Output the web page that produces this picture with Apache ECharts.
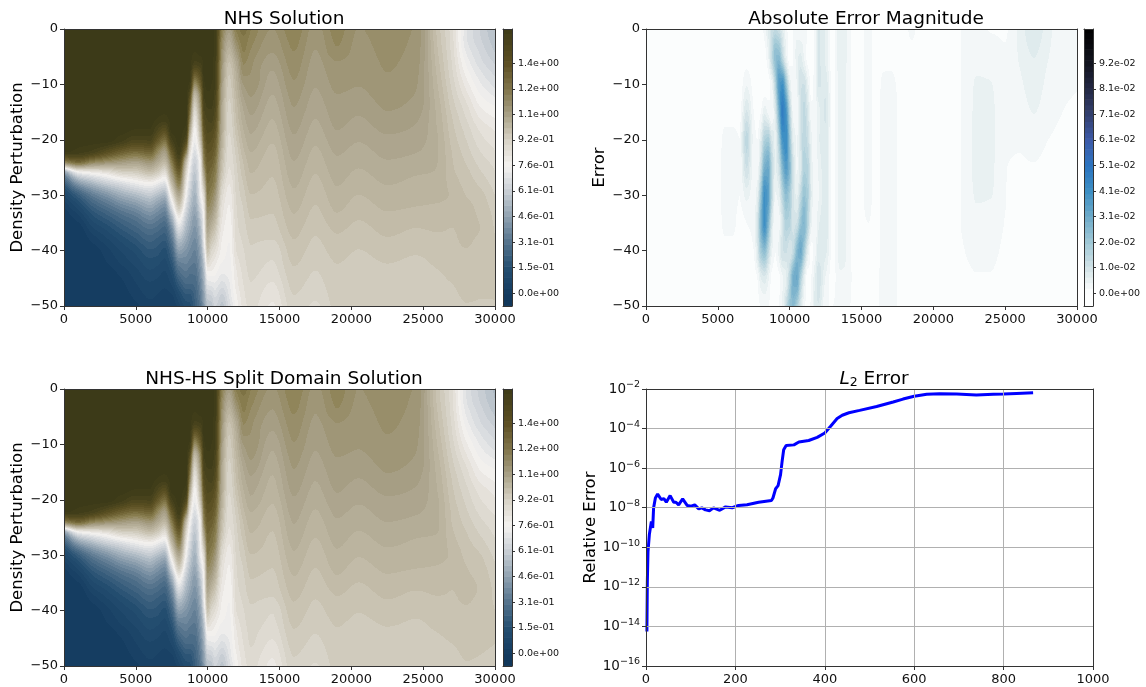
<!DOCTYPE html>
<html>
<head>
<meta charset="utf-8">
<title>NHS-HS split domain</title>
<script src="https://cdn.jsdelivr.net/npm/echarts@6/dist/echarts.min.js"></script>
<style>
  html, body { margin: 0; padding: 0; background: #fff; }
  #chart { width: 1146px; height: 687px; }
</style>
</head>
<body>
<div id="chart"></div>
<script>
// Density fields, one line per x column, rows run y = 0, -2, ... -50
const fieldX = [0, 1000, 2000, 3000, 4000, 5000, 6000, 6500, 7000, 7500, 8000, 8500, 8750, 9100, 9500, 9750, 10000, 10250, 10500, 11000, 11500, 12000, 12500,
  13000, 14500, 16000, 17500, 19000, 20500, 22500, 24500, 26000, 27000, 28000, 29000, 30000];
const fieldY = [0, -2, -4, -6, -8, -10, -12, -14, -16, -18, -20, -22, -24, -26, -28, -30, -32, -34, -36, -38, -40, -42, -44, -46, -48, -50];

// x <= 12500 reads the same in both solution panels
const sharedColumns = [
  [1.6,1.6,1.6,1.6,1.6,1.6,1.6,1.6,1.6,1.6,1.6,1.6,1.25,.42,.2,.09,.03,0,0,0,0,0,0,0,0,0],
  [1.6,1.6,1.6,1.6,1.6,1.6,1.6,1.6,1.6,1.6,1.6,1.58,1.35,.72,.42,.22,.12,.05,.01,0,0,0,0,0,0,0],
  [1.6,1.6,1.6,1.6,1.6,1.6,1.6,1.6,1.6,1.6,1.6,1.55,1.25,.78,.52,.34,.23,.15,.09,.04,.01,0,0,0,0,0],
  [1.6,1.6,1.6,1.6,1.6,1.6,1.6,1.6,1.6,1.6,1.6,1.48,1.2,.83,.6,.42,.3,.21,.14,.09,.05,.03,.01,0,0,0],
  [1.6,1.6,1.6,1.6,1.6,1.6,1.6,1.6,1.6,1.6,1.57,1.4,1.16,.9,.66,.5,.37,.27,.2,.14,.1,.07,.04,.02,.01,0],
  [1.6,1.6,1.6,1.6,1.6,1.6,1.6,1.6,1.6,1.59,1.52,1.35,1.13,.92,.72,.55,.42,.32,.25,.19,.14,.11,.08,.06,.04,.02],
  [1.6,1.6,1.6,1.6,1.6,1.6,1.6,1.6,1.6,1.59,1.53,1.38,1.18,.98,.76,.6,.48,.38,.3,.24,.19,.15,.12,.09,.07,.05],
  [1.6,1.6,1.6,1.6,1.6,1.6,1.6,1.6,1.59,1.53,1.42,1.25,1.1,.93,.72,.56,.44,.35,.28,.22,.18,.14,.11,.08,.06,.04],
  [1.6,1.6,1.6,1.6,1.6,1.6,1.6,1.6,1.58,1.48,1.32,1.15,1.02,.85,.68,.52,.4,.32,.25,.2,.15,.12,.09,.07,.05,.03],
  [1.6,1.6,1.6,1.6,1.6,1.6,1.6,1.6,1.6,1.6,1.55,1.42,1.28,1.15,1,.84,.68,.52,.4,.32,.25,.19,.14,.1,.06,.03],
  [1.6,1.6,1.6,1.6,1.6,1.6,1.6,1.6,1.6,1.6,1.6,1.58,1.5,1.38,1.26,1.1,.96,.8,.68,.56,.46,.36,.28,.2,.13,.08],
  [1.6,1.6,1.6,1.6,1.6,1.6,1.6,1.6,1.6,1.58,1.5,1.3,1.02,.9,.82,.76,.68,.6,.54,.48,.42,.37,.32,.26,.19,.14],
  [1.6,1.6,1.6,1.6,1.6,1.58,1.48,1.38,1.28,1.15,1,.88,.78,.72,.67,.62,.57,.52,.48,.43,.39,.35,.3,.26,.19,.15],
  [1.6,1.6,1.59,1.55,1.4,1.22,1.02,.92,.84,.78,.74,.69,.63,.59,.55,.52,.49,.45,.42,.39,.36,.33,.3,.27,.24,.22],
  [1.6,1.6,1.6,1.56,1.48,1.38,1.26,1.2,1.14,1.08,1,.9,.81,.79,.77,.74,.67,.6,.55,.51,.47,.44,.41,.38,.35,.32],
  [1.6,1.6,1.6,1.6,1.6,1.58,1.56,1.53,1.49,1.44,1.38,1.32,1.26,1.14,1.02,.9,.84,.8,.78,.75,.68,.6,.55,.51,.47,.44],
  [1.6,1.6,1.6,1.6,1.6,1.6,1.58,1.56,1.53,1.5,1.47,1.43,1.39,1.36,1.32,1.29,1.23,1.17,1.12,1.05,.98,.88,.78,.7,.62,.56],
  [1.6,1.6,1.6,1.6,1.6,1.59,1.58,1.56,1.54,1.5,1.46,1.42,1.38,1.33,1.3,1.25,1.2,1.13,1.05,.97,.9,.84,.78,.71,.63,.57],
  [1.58,1.58,1.58,1.57,1.57,1.56,1.54,1.52,1.49,1.45,1.41,1.37,1.32,1.28,1.24,1.18,1.12,1.05,.98,.92,.86,.81,.77,.72,.67,.63],
  [1.27,1.23,1.2,1.18,1.16,1.14,1.12,1.1,1.09,1.08,1.06,1.03,1,.97,.92,.88,.85,.83,.81,.79,.78,.76,.73,.68,.62,.58],
  [1.14,1.09,1.04,.99,.96,.945,.93,.915,.905,.895,.885,.875,.865,.85,.825,.805,.79,.78,.765,.76,.755,.75,.74,.72,.7,.67],
  [1.27,1.22,1.16,1.1,1.07,1.05,1.03,1.01,1,.98,.96,.94,.925,.915,.905,.9,.89,.885,.88,.87,.86,.84,.82,.81,.79,.77],
  [1.31,1.28,1.26,1.23,1.2,1.16,1.13,1.1,1.08,1.06,1.04,1.02,.995,.98,.96,.945,.93,.92,.91,.9,.89,.88,.87,.86,.85,.84]
];
const nhsRightColumns = [
  [1.26,1.24,1.22,1.2,1.19,1.18,1.16,1.14,1.12,1.1,1.08,1.06,1.04,1.025,1.01,.99,.975,.96,.945,.93,.92,.91,.9,.89,.88,.87],
  [1.19,1.175,1.16,1.14,1.12,1.105,1.09,1.075,1.06,1.045,1.03,1.015,1.005,.995,.985,.975,.965,.955,.945,.925,.9,.89,.875,.855,.835,.82],
  [1.25,1.236,1.224,1.21,1.198,1.185,1.17,1.158,1.145,1.131,1.118,1.104,1.09,1.077,1.063,1.049,1.034,1.02,1.005,.991,.977,.964,.95,.937,.925,.912],
  [1.176,1.166,1.156,1.146,1.137,1.127,1.117,1.106,1.092,1.08,1.066,1.052,1.04,1.026,1.013,1,.99,.978,.966,.955,.944,.933,.923,.913,.9,.885],
  [1.24,1.23,1.218,1.189,1.178,1.167,1.156,1.146,1.137,1.126,1.112,1.097,1.084,1.072,1.06,1.047,1.033,1.018,.999,.984,.972,.96,.952,.945,.94,.935],
  [1.189,1.183,1.177,1.171,1.165,1.159,1.149,1.135,1.122,1.108,1.094,1.08,1.066,1.052,1.038,1.024,1.01,.995,.981,.969,.957,.948,.94,.935,.93,.925],
  [1.21,1.205,1.2,1.195,1.19,1.181,1.172,1.162,1.15,1.133,1.116,1.102,1.088,1.073,1.059,1.045,1.031,1.017,1.002,.988,.973,.96,.951,.944,.937,.93],
  [1.185,1.18,1.175,1.17,1.165,1.16,1.155,1.145,1.131,1.119,1.107,1.094,1.078,1.061,1.049,1.037,1.025,1.007,.991,.978,.963,.953,.948,.94,.935,.93],
  [.98,.985,.995,1.005,1.015,1.025,1.035,1.045,1.05,1.055,1.06,1.06,1.058,1.055,1.045,1.035,1.02,1.005,.995,.985,.975,.965,.955,.945,.938,.93],
  [.87,.875,.88,.89,.9,.915,.93,.945,.96,.97,.98,.99,.995,1,1.01,1.02,1.012,1,.991,.988,.985,.98,.97,.958,.948,.935],
  [.7,.7,.72,.75,.78,.81,.84,.87,.89,.91,.925,.94,.955,.97,.98,.99,1,1,1,.995,.99,.98,.975,.97,.965,.955],
  [.62,.63,.65,.67,.7,.73,.76,.79,.82,.85,.87,.89,.91,.93,.95,.97,.98,.987,.991,.985,.98,.975,.97,.965,.96,.955],
  [.56,.57,.59,.62,.65,.68,.72,.76,.79,.82,.84,.86,.88,.895,.91,.925,.94,.95,.955,.96,.965,.965,.965,.962,.96,.955]
];
const splitRightColumns = [
  [1.26,1.24,1.22,1.2,1.19,1.18,1.165,1.145,1.12,1.1,1.085,1.06,1.045,1.025,1.015,.99,.975,.96,.95,.93,.92,.91,.9,.895,.88,.87],
  [1.185,1.17,1.155,1.14,1.12,1.1,1.085,1.07,1.055,1.045,1.03,1.015,1,.99,.98,.97,.96,.95,.94,.92,.895,.885,.87,.85,.83,.815],
  [1.252,1.24,1.228,1.212,1.2,1.188,1.172,1.16,1.148,1.134,1.12,1.106,1.093,1.08,1.066,1.052,1.037,1.023,1.008,.994,.98,.967,.953,.94,.927,.915],
  [1.18,1.17,1.16,1.15,1.14,1.13,1.12,1.109,1.095,1.083,1.07,1.056,1.043,1.03,1.017,1.004,.993,.981,.97,.958,.947,.936,.926,.915,.902,.888],
  [1.242,1.232,1.22,1.192,1.18,1.17,1.159,1.149,1.14,1.129,1.115,1.1,1.087,1.075,1.063,1.05,1.036,1.021,1.002,.987,.975,.963,.954,.947,.941,.936],
  [1.19,1.185,1.179,1.173,1.167,1.161,1.152,1.138,1.125,1.111,1.097,1.083,1.069,1.055,1.041,1.027,1.013,.998,.984,.972,.96,.951,.942,.936,.931,.926],
  [1.21,1.206,1.201,1.196,1.191,1.183,1.174,1.164,1.152,1.135,1.119,1.105,1.091,1.076,1.062,1.048,1.034,1.02,1.005,.991,.976,.963,.953,.945,.938,.931],
  [1.185,1.18,1.176,1.171,1.166,1.161,1.156,1.147,1.134,1.122,1.11,1.097,1.081,1.064,1.052,1.04,1.028,1.01,.994,.981,.966,.956,.95,.941,.936,.93],
  [.975,.98,.99,1,1.012,1.022,1.033,1.043,1.05,1.056,1.062,1.064,1.062,1.058,1.048,1.038,1.023,1.008,.998,.988,.978,.968,.958,.948,.94,.93],
  [.865,.87,.875,.885,.895,.91,.925,.94,.955,.965,.975,.985,.99,.998,1.008,1.018,1.01,1,.992,.989,.985,.98,.97,.958,.948,.935],
  [.69,.695,.715,.74,.77,.8,.83,.86,.88,.9,.915,.93,.945,.96,.972,.982,.992,.996,.998,.994,.988,.98,.974,.968,.962,.955],
  [.61,.62,.64,.66,.69,.72,.75,.78,.81,.84,.86,.88,.9,.92,.94,.96,.972,.982,.988,.984,.978,.972,.966,.962,.958,.953],
  [.55,.56,.58,.61,.64,.67,.71,.75,.78,.81,.83,.85,.87,.885,.9,.915,.93,.94,.948,.952,.958,.96,.96,.958,.955,.952]
];
const nhsColumns = sharedColumns.concat(nhsRightColumns);
const splitColumns = sharedColumns.concat(splitRightColumns);

// Error magnitude, rows run y = 0, -5, ... -50
const errorX = [0, 5000, 5500, 6000, 6500, 7000, 7500, 7750, 8000, 8250, 8500, 8750, 9000, 9250, 9500, 9750, 10000, 10250, 10500, 10750, 11000, 11250, 11500, 11750, 12000,
  12500, 13000, 13500, 14000, 14500, 15000, 15500, 16000, 16500, 17000, 18000, 18500, 19000, 20000, 21000, 22000, 23000, 24000, 25000, 26000, 27000, 28000, 29000, 30000];
const errorY = [0, -5, -10, -15, -20, -25, -30, -35, -40, -45, -50];
const errorColumns = [
  [.0005,.0005,.0005,.0005,.0005,.0005,.0005,.0005,.0005,.0005,.0005],
  [.0005,.0005,.0005,.0005,.0005,.0005,.0005,.0005,.0005,.0005,.0005],
  [.0005,.0005,.0005,.001,.003,.004,.004,.003,.001,.0005,.0005],
  [.0005,.0005,.0005,.001,.003,.004,.004,.003,.001,.0005,.0005],
  [.0005,.0005,.0005,.001,.002,.002,.002,.001,.001,.0005,.0005],
  [.0005,.001,.004,.009,.014,.011,.005,.002,.0008,.0005,.0005],
  [.0005,.0005,.001,.002,.003,.003,.003,.003,.002,.001,.0005],
  [.0005,.0005,.0005,.001,.002,.003,.006,.009,.008,.002,.001],
  [.001,.0005,.0005,.002,.007,.012,.022,.028,.02,.0064,.002],
  [.003,.001,.0005,.006,.017,.029,.04,.04,.0246,.008,.002],
  [.007,.004,.001,.0037,.019,.031,.035,.028,.015,.005,.002],
  [.011,.013,.0035,.002,.0095,.015,.0147,.009,.005,.0015,.001],
  [.013,.024,.016,.0084,.006,.006,.004,.002,.002,.001,.001],
  [.011,.025,.036,.028,.018,.011,.0058,.0033,.005,.0015,.002],
  [.007,.014,.04,.047,.039,.027,.016,.01,.0106,.004,.0046],
  [.003,.005,.023,.039,.042,.036,.024,.017,.0114,.006,.0125],
  [.001,.001,.0065,.016,.022,.026,.019,.016,.009,.0155,.0217],
  [.002,.002,.002,.0034,.0064,.01,.009,.01,.013,.029,.025],
  [.003,.0056,.0043,.003,.004,.004,.006,.011,.0254,.031,.018],
  [.002,.007,.0104,.0094,.009,.008,.0134,.0216,.031,.018,.0087],
  [.003,.004,.011,.014,.015,.017,.022,.0266,.02,.0063,.0028],
  [.002,.0013,.0055,.0094,.012,.0156,.0176,.0165,.007,.001,.001],
  [.001,.001,.0012,.0028,.005,.0065,.007,.005,.0014,.002,.0025],
  [.0024,.003,.003,.002,.0026,.002,.002,.002,.003,.006,.0075],
  [.009,.009,.0088,.0055,.006,.0045,.004,.006,.0075,.01,.0085],
  [.006,.006,.008,.009,.008,.008,.008,.008,.007,.004,.002],
  [.0005,.0005,.001,.001,.001,.001,.001,.001,.001,.001,.002],
  [.006,.006,.005,.005,.005,.005,.005,.005,.005,.004,.004],
  [.004,.004,.004,.004,.004,.004,.004,.004,.004,.004,.003],
  [.0005,.0005,.001,.001,.001,.001,.001,.001,.001,.001,.001],
  [.0015,.0015,.0015,.0015,.0015,.0015,.0015,.0015,.0015,.0015,.0015],
  [.003,.003,.003,.003,.003,.003,.003,.002,.001,.0005,.0005],
  [.0005,.0005,.0005,.0005,.0005,.0005,.0005,.0005,.0005,.001,.001],
  [.0015,.0015,.0025,.003,.003,.003,.003,.003,.003,.003,.003],
  [.001,.0015,.0025,.003,.003,.003,.003,.003,.003,.003,.0025],
  [.001,.001,.001,.001,.001,.001,.001,.001,.001,.001,.0015],
  [.003,.001,.001,.001,.001,.001,.001,.001,.001,.001,.001],
  [.001,.001,.001,.001,.001,.001,.001,.001,.001,.001,.001],
  [.001,.001,.001,.001,.001,.001,.001,.001,.001,.001,.001],
  [.001,.001,.001,.001,.001,.001,.001,.001,.001,.001,.001],
  [.0021,.0021,.0021,.0021,.0021,.0021,.0021,.0021,.0018,.0012,.001],
  [.003,.0036,.0044,.0046,.0047,.0047,.0044,.0036,.0028,.0018,.001],
  [.0018,.0032,.0043,.0046,.0047,.0046,.0043,.0033,.0026,.0018,.001],
  [.0018,.0022,.0025,.0026,.0025,.0021,.0021,.0019,.0015,.001,.0008],
  [.005,.0045,.0037,.003,.0023,.0017,.0012,.001,.0008,.0007,.0006],
  [.0085,.0065,.0055,.0043,.0032,.0018,.0012,.001,.0008,.0007,.0006],
  [.005,.0043,.0035,.0028,.002,.0012,.001,.0008,.0007,.0006,.0005],
  [.0028,.0027,.0024,.002,.0015,.001,.0008,.0007,.0006,.0005,.0005],
  [.0023,.0023,.0021,.0016,.0012,.0009,.0007,.0006,.0005,.0005,.0005]
];

// L2 error history
const l2Time = [2, 3, 4.5, 7.5, 12, 15, 17, 21, 26, 34, 40, 45.5, 54, 62, 67, 73, 82, 92, 101, 109, 118, 125, 133, 142, 151, 165, 178, 193, 207, 226, 252, 280.6, 284, 290, 295.5, 301, 304.5, 308, 313.5, 331, 342, 364, 383, 400, 413, 427.6, 439, 454, 478, 516, 553, 575, 600, 628, 657, 695, 739, 777, 800, 829, 866];
const l2Error = [5.6e-15, 1.9e-12, 6.3e-11, 4.4e-10, 2e-9, 9.5e-10, 9.8e-9, 3.1e-8, 4.9e-8, 2.6e-8, 2.9e-8, 1.9e-8, 4.1e-8, 1.9e-8, 1.9e-8, 1.4e-8, 2.8e-8, 1.3e-8, 1.2e-8, 1.4e-8, 8.7e-9, 9.8e-9, 7.8e-9, 7.1e-9, 9.8e-9, 7.4e-9, 1.1e-8, 1e-8, 1.3e-8, 1.4e-8, 1.9e-8, 2.3e-8, 3.1e-8, 9.1e-8, 1.3e-7, 4.7e-7, 2.2e-6, 8.5e-6, 1.4e-5, 1.5e-5, 2.1e-5, 2.5e-5, 3.6e-5, 6e-5, 1.3e-4, 3.2e-4, 4.7e-4, 6.3e-4, 8.3e-4, 1.3e-3, 2.2e-3, 3.1e-3, 4.3e-3, 5.4e-3, 5.8e-3, 5.6e-3, 5e-3, 5.4e-3, 5.6e-3, 6e-3, 6.5e-3];

// Colour bar ticks and labels
const solutionTicks = [0, .153, .306, .459, .612, .765, .918, 1.071, 1.224, 1.377];
const solutionTickLabels = ['0.0e+00', '1.5e-01', '3.1e-01', '4.6e-01', '6.1e-01', '7.6e-01', '9.2e-01', '1.1e+00', '1.2e+00', '1.4e+00'];
const errorTicks = [0, .0102, .0204, .0306, .0408, .051, .0612, .0714, .0816, .0918];
const errorTickLabels = ['0.0e+00', '1.0e-02', '2.0e-02', '3.1e-02', '4.1e-02', '5.1e-02', '6.1e-02', '7.1e-02', '8.1e-02', '9.2e-02'];

// Colour maps, [value, hex]. The field values were read by band colour, so the bar keeps its own stops
const solutionStops = [[-.08, '#0f3557'], [0, '#143c60'], [.153, '#244e70'], [.306, '#54738c'], [.459, '#8fa1b0'], [.612, '#c8ced4'], [.765, '#f4f2f0'],
  [.925, '#d4cfc3'], [.991, '#c5bfad'], [1.057, '#b8b19b'], [1.123, '#aaa28a'], [1.189, '#9c9272'], [1.25, '#8e8356'], [1.36, '#6e6233'], [1.45, '#5a4f22'], [1.59, '#3c3a18']];
const solutionBarStops = [[-.08, '#0f3557'], [0, '#143c60'], [.153, '#244e70'], [.306, '#54738c'], [.459, '#8fa1b0'], [.612, '#c8ced4'], [.765, '#f4f2f0'],
  [.918, '#d8d3c6'], [1.071, '#a9a186'], [1.224, '#80744a'], [1.377, '#5d4f24'], [1.59, '#3c3a18']];
const errorStops = [[-.006, '#ffffff'], [0, '#fdfefe'], [.001, '#fbfdfd'], [.003, '#f3f7f8'], [.005, '#eaf2f3'], [.0102, '#d3e3e7'], [.0204, '#a0c8d6'], [.0306, '#6fabc9'], [.0408, '#3d8fc4'],
  [.051, '#2b74c0'], [.0612, '#3d5aa8'], [.0714, '#33406f'], [.0816, '#232844'], [.0918, '#12141f'], [.106, '#000000']];

const FONT = 'DejaVu Sans';

function hexToRgb(hex) {
  return [1, 3, 5].map(i => parseInt(hex.slice(i, i + 2), 16));
}

function stopColor(stops, v) {
  if (v <= stops[0][0]) return hexToRgb(stops[0][1]);
  for (let i = 1; i < stops.length; i++) {
    if (v <= stops[i][0]) {
      const t = (v - stops[i - 1][0]) / (stops[i][0] - stops[i - 1][0]);
      const a = hexToRgb(stops[i - 1][1]);
      const b = hexToRgb(stops[i][1]);
      return [0, 1, 2].map(k => Math.round(a[k] + (b[k] - a[k]) * t));
    }
  }
  return hexToRgb(stops[stops.length - 1][1]);
}

// contourf look: snap a value to its band
function bandColor(stops, scale, v) {
  const k = Math.floor((v - scale.anchor) / scale.step);
  return stopColor(stops, scale.anchor + (k + 0.5) * scale.step);
}

const solutionScale = { stops: solutionStops, barStops: solutionBarStops, anchor: .925, step: .0332, min: -.0765, max: 1.582 };
const errorScale = { stops: errorStops, barStops: errorStops, anchor: .002, step: .00222, min: -.0051, max: .1055 };

function slope(xs, vs, i) {
  if (i === 0) return (vs[1] - vs[0]) / (xs[1] - xs[0]);
  const n = xs.length - 1;
  if (i === n) return (vs[n] - vs[n - 1]) / (xs[n] - xs[n - 1]);
  const d0 = (vs[i] - vs[i - 1]) / (xs[i] - xs[i - 1]);
  const d1 = (vs[i + 1] - vs[i]) / (xs[i + 1] - xs[i]);
  if (d0 * d1 <= 0) return 0;
  return 2 * d0 * d1 / (d0 + d1);
}

// monotone cubic between the read values, only to shade the pixels of a cell
function shade(xs, vs, i, x) {
  const h = xs[i + 1] - xs[i];
  const t = (x - xs[i]) / h;
  const t2 = t * t;
  const t3 = t2 * t;
  return (2 * t3 - 3 * t2 + 1) * vs[i] + (t3 - 2 * t2 + t) * h * slope(xs, vs, i) +
    (-2 * t3 + 3 * t2) * vs[i + 1] + (t3 - t2) * h * slope(xs, vs, i + 1);
}

function fieldCells(xs, ys, columns) {
  const cells = [];
  for (let i = 0; i < xs.length - 1; i++) {
    for (let j = 0; j < ys.length - 1; j++) {
      cells.push([xs[i], xs[i + 1], ys[j], ys[j + 1], columns[i][j], i, j]);
    }
  }
  return cells;
}

function fieldSeries(axisPair, xs, ys, columns, scale) {
  return {
    type: 'custom',
    xAxisIndex: axisPair[0],
    yAxisIndex: axisPair[1],
    silent: true,
    clip: true,
    encode: { x: [0, 1], y: [2, 3] },
    data: fieldCells(xs, ys, columns),
    renderItem(params, api) {
      const x0 = api.value(0), x1 = api.value(1), y0 = api.value(2), y1 = api.value(3);
      const i = api.value(5), j = api.value(6);
      const a = api.coord([x0, y0]);
      const b = api.coord([x1, y1]);
      const left = Math.round(a[0]), right = Math.round(b[0]);
      const top = Math.round(a[1]), bottom = Math.round(b[1]);
      const w = right - left, h = bottom - top;
      if (w <= 0 || h <= 0) return null;
      const canvas = document.createElement('canvas');
      canvas.width = w;
      canvas.height = h;
      const ctx = canvas.getContext('2d');
      const img = ctx.createImageData(w, h);
      for (let py = 0; py < h; py++) {
        const y = y0 + (top + py + 0.5 - a[1]) / (b[1] - a[1]) * (y1 - y0);
        const row = columns.map(col => shade(ys, col, j, y));
        for (let px = 0; px < w; px++) {
          const x = x0 + (left + px + 0.5 - a[0]) / (b[0] - a[0]) * (x1 - x0);
          const c = bandColor(scale.stops, scale, shade(xs, row, i, x));
          const o = (py * w + px) * 4;
          img.data[o] = c[0];
          img.data[o + 1] = c[1];
          img.data[o + 2] = c[2];
          img.data[o + 3] = 255;
        }
      }
      ctx.putImageData(img, 0, 0);
      return { type: 'image', style: { image: canvas, x: left, y: top, width: w, height: h } };
    }
  };
}

function colorbarSeries(axisPair, scale) {
  const bands = [];
  const kMin = Math.floor((scale.min - scale.anchor) / scale.step);
  const kMax = Math.ceil((scale.max - scale.anchor) / scale.step);
  for (let k = kMin; k < kMax; k++) {
    bands.push([scale.anchor + k * scale.step, scale.anchor + (k + 1) * scale.step]);
  }
  return {
    type: 'custom',
    xAxisIndex: axisPair[0],
    yAxisIndex: axisPair[1],
    silent: true,
    clip: true,
    encode: { y: [0, 1] },
    data: bands,
    renderItem(params, api) {
      const lo = api.value(0), hi = api.value(1);
      const a = api.coord([0, hi]);
      const b = api.coord([1, lo]);
      const c = bandColor(scale.barStops, scale, (lo + hi) / 2);
      return {
        type: 'rect',
        shape: { x: a[0], y: a[1], width: b[0] - a[0], height: b[1] - a[1] + 0.6 },
        style: { fill: 'rgb(' + c.join(',') + ')' }
      };
    }
  };
}

const grids = [];
const xAxes = [];
const yAxes = [];
const series = [];

const FRAME = { show: true, onZero: false, lineStyle: { color: '#333', width: 1 } };
const TICK_TEXT = { color: '#111', fontFamily: FONT, fontSize: 13 };
const NAME_TEXT = { color: '#000', fontFamily: FONT, fontSize: 16.5 };

function addFrame(gridIndex, xRange, yRange, yType) {
  // top and right spines, drawn over the field
  xAxes.push({ gridIndex, type: 'value', position: 'top', min: xRange[0], max: xRange[1], z: 5, axisLine: FRAME, axisTick: { show: false }, axisLabel: { show: false }, splitLine: { show: false } });
  yAxes.push({ gridIndex, type: yType || 'value', position: 'right', min: yRange[0], max: yRange[1], z: 5, axisLine: FRAME, axisTick: { show: false }, axisLabel: { show: false }, splitLine: { show: false } });
}

function addFieldPanel(box, name, nameGap, xs, ys, columns, scale) {
  const gridIndex = grids.length;
  grids.push(box);
  const pair = [xAxes.length, yAxes.length];
  xAxes.push({
    gridIndex, type: 'value', min: 0, max: 30000, interval: 5000, position: 'bottom', z: 5,
    axisLine: FRAME, axisTick: { show: true, length: 4, lineStyle: { color: '#333' } },
    axisLabel: { ...TICK_TEXT, margin: 7, hideOverlap: false, formatter: v => String(v) }, splitLine: { show: false }
  });
  yAxes.push({
    gridIndex, type: 'value', min: -50, max: 0, interval: 10, position: 'left', z: 5,
    name, nameLocation: 'middle', nameGap,
    nameTextStyle: NAME_TEXT,
    axisLine: FRAME, axisTick: { show: true, length: 4, lineStyle: { color: '#333' } },
    axisLabel: { ...TICK_TEXT, margin: 6, formatter: v => String(v).replace('-', '\u2212') }, splitLine: { show: false }
  });
  addFrame(gridIndex, [0, 30000], [-50, 0]);
  series.push(fieldSeries(pair, xs, ys, columns, scale));
}

function addColorbar(box, scale, ticks, labels) {
  const gridIndex = grids.length;
  grids.push(box);
  const pair = [xAxes.length, yAxes.length];
  xAxes.push({ gridIndex, type: 'value', min: 0, max: 1, position: 'bottom', z: 5, axisLine: FRAME, axisTick: { show: false }, axisLabel: { show: false }, splitLine: { show: false } });
  yAxes.push({
    gridIndex, type: 'value', min: scale.min, max: scale.max, position: 'right', z: 5,
    axisLine: FRAME,
    axisTick: { show: true, length: 3, customValues: ticks, lineStyle: { color: '#333' } },
    axisLabel: {
      color: '#111', fontFamily: FONT, fontSize: 9.5, margin: 6, customValues: ticks,
      formatter: v => labels[ticks.findIndex(t => Math.abs(t - v) < 1e-6)]
    },
    splitLine: { show: false }
  });
  xAxes.push({ gridIndex, type: 'value', position: 'top', min: 0, max: 1, z: 5, axisLine: FRAME, axisTick: { show: false }, axisLabel: { show: false }, splitLine: { show: false } });
  yAxes.push({ gridIndex, type: 'value', position: 'left', min: scale.min, max: scale.max, z: 5, axisLine: FRAME, axisTick: { show: false }, axisLabel: { show: false }, splitLine: { show: false } });
  series.push(colorbarSeries(pair, scale));
}

addFieldPanel({ left: 64, top: 29, width: 431, height: 277 }, 'Density Perturbation', 35, fieldX, fieldY, nhsColumns, solutionScale);
addColorbar({ left: 503, top: 29, width: 9, height: 277 }, solutionScale, solutionTicks, solutionTickLabels);
addFieldPanel({ left: 646, top: 29, width: 431, height: 277 }, 'Error', 32, errorX, errorY, errorColumns, errorScale);
addColorbar({ left: 1084, top: 29, width: 9, height: 277 }, errorScale, errorTicks, errorTickLabels);
addFieldPanel({ left: 64, top: 389, width: 431, height: 277 }, 'Density Perturbation', 35, fieldX, fieldY, splitColumns, solutionScale);
addColorbar({ left: 503, top: 389, width: 9, height: 277 }, solutionScale, solutionTicks, solutionTickLabels);

// L2 error panel
const l2Grid = grids.length;
grids.push({ left: 646, top: 389, width: 447, height: 277 });
const l2Pair = [xAxes.length, yAxes.length];
const GRID_LINE = { show: true, lineStyle: { color: '#b0b0b0', width: 1 } };
xAxes.push({
  gridIndex: l2Grid, type: 'value', min: 0, max: 1000, interval: 200, position: 'bottom', z: 5,
  axisLine: FRAME, axisTick: { show: true, length: 4, lineStyle: { color: '#333' } },
  axisLabel: { ...TICK_TEXT, margin: 7, formatter: v => String(v) }, splitLine: GRID_LINE
});
yAxes.push({
  gridIndex: l2Grid, type: 'log', logBase: 10, min: 1e-16, max: 1e-2, interval: 2, position: 'left', z: 5,
  name: 'Relative Error', nameLocation: 'middle', nameGap: 45,
  nameTextStyle: NAME_TEXT,
  axisLine: FRAME, axisTick: { show: true, length: 4, lineStyle: { color: '#333' } },
  axisLabel: {
    margin: 6,
    formatter: v => '{b|10}{s|\u2212' + Math.abs(Math.round(Math.log10(v))) + '}',
    rich: {
      b: { ...TICK_TEXT, fontSize: 13.5 },
      s: { color: '#111', fontFamily: FONT, fontSize: 9.5, padding: [0, 0, 8, 0] }
    }
  },
  splitLine: GRID_LINE
});
addFrame(l2Grid, [0, 1000], [1e-16, 1e-2], 'log');
series.push({
  type: 'line',
  xAxisIndex: l2Pair[0],
  yAxisIndex: l2Pair[1],
  data: l2Time.map((t, i) => [t, l2Error[i]]),
  showSymbol: false,
  symbol: 'none',
  smooth: false,
  lineStyle: { color: '#0000ff', width: 3 }
});

const TITLE_TEXT = { color: '#000', fontFamily: FONT, fontSize: 18.5, fontWeight: 'normal' };
const chart = echarts.init(document.getElementById('chart'), null, { renderer: 'canvas' });
chart.setOption({
  animation: false,
  backgroundColor: '#fff',
  title: [
    { text: 'NHS Solution', left: 279, top: 5, textAlign: 'center', textStyle: TITLE_TEXT },
    { text: 'Absolute Error Magnitude', left: 861, top: 5, textAlign: 'center', textStyle: TITLE_TEXT },
    { text: 'NHS-HS Split Domain Solution', left: 279, top: 365, textAlign: 'center', textStyle: TITLE_TEXT },
    {
      text: '{i|L}{sub|2}{n| Error}', left: 869, top: 365, textAlign: 'center',
      textStyle: {
        ...TITLE_TEXT,
        rich: {
          i: { ...TITLE_TEXT, fontStyle: 'italic' },
          sub: { ...TITLE_TEXT, fontSize: 12.5, padding: [6, 0, 0, 0] },
          n: { ...TITLE_TEXT }
        }
      }
    }
  ],
  grid: grids,
  xAxis: xAxes,
  yAxis: yAxes,
  series
});
</script>
</body>
</html>
